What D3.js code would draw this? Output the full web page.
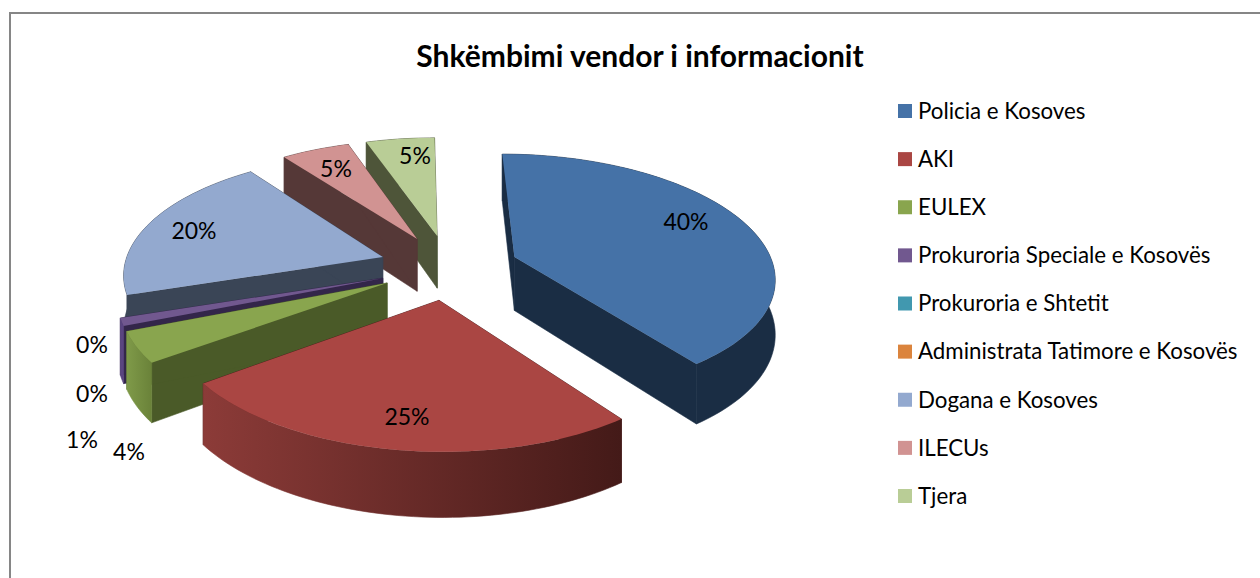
<!DOCTYPE html>
<html><head><meta charset="utf-8">
<script src="https://cdn.jsdelivr.net/npm/d3@7/dist/d3.min.js"></script>
<style>html,body{margin:0;padding:0;background:#fff}svg{display:block}text{font-family:Lato,Carlito,"Open Sans",sans-serif;fill:#000}</style>
</head><body><svg id="c" width="1260" height="578"></svg>
<script>
const title = "Shkëmbimi vendor i informacionit";
const categories = ["Policia e Kosoves","AKI","EULEX","Prokuroria Speciale e Kosovës","Prokuroria e Shtetit","Administrata Tatimore e Kosovës","Dogana e Kosoves","ILECUs","Tjera"];
const values = [40,25,4,1,0,0,20,5,5];
const topColors = ["#4572a7","#aa4643","#89a54e","#71588f","#4198af","#db843d","#93a9cf","#d19392","#b9cd96"];
const faceColors = ["#1a2d44","#451a19","#4a5a28","#33264a","#1f4a56","#7a4a20","#3a4556","#553837","#4e5539"];
const wallStart = ["#1a2d44","#8c3b38","#7f9a49","#5a4580","#1f4a56","#7a4a20","#3a4556","#553837","#4e5539"];
const wallEnd = ["#1a2d44","#441a18","#6a8239","#5a4580","#1f4a56","#7a4a20","#3a4556","#553837","#4e5539"];
// label centres, chart styling rather than data
const labelPos = [[686,222],[407,417],[129,452],[82,440],[92,394],[92,345],[194,231],[336,169],[415,156]];
const drawOrder = [8,7,6,5,4,3,2,0,1];

const W=1260,H=578,cx=449,cy=267,R=259,tiltY=120,persp=0.14,explode=70,depth=54,shear=0.04;
const svg=d3.select("#c");
const defs=svg.append("defs");

svg.append("path").attr("d",`M10,578V13H1260`).attr("fill","none").attr("stroke","#868686").attr("stroke-width",2);
svg.append("text").attr("x",640).attr("y",67).attr("text-anchor","middle").attr("font-size",30).attr("font-weight",700).text(title);

const arcs=d3.pie().sort(null).value(d=>d).startAngle(0).endAngle(2*Math.PI)(values);
function project(wx,wy,z){ // wx,wy in units of R on disc plane, z in px
  const p=1/(1+persp*wy);
  const dy=-wy*tiltY*p;
  return [cx+wx*R*p+shear*dy, cy+dy+z*p];
}
const line=d3.line();
drawOrder.forEach(i=>{
  const a=arcs[i]; if(a.value===0) return;
  const mid=(a.startAngle+a.endAngle)/2, e=explode/R;
  const ax=e*Math.sin(mid), ay=e*Math.cos(mid);
  const n=Math.max(6,Math.ceil((a.endAngle-a.startAngle)*40));
  const rim=d3.range(n+1).map(k=>{const t=a.startAngle+(a.endAngle-a.startAngle)*k/n;return [ax+Math.sin(t),ay+Math.cos(t)];});
  const rimTop=rim.map(q=>project(q[0],q[1],0)), rimBot=rim.map(q=>project(q[0],q[1],depth));
  const apexT=project(ax,ay,0), apexB=project(ax,ay,depth);
  const g=svg.append("g");
  g.append("path").attr("d",line([apexT,rimTop[0],rimBot[0],apexB])+"Z").attr("fill",faceColors[i]).attr("stroke",faceColors[i]).attr("stroke-width",0.6);
  g.append("path").attr("d",line([apexT,rimTop[n],rimBot[n],apexB])+"Z").attr("fill",faceColors[i]).attr("stroke",faceColors[i]).attr("stroke-width",0.6);
  const id="w"+i, xs=d3.extent(rimTop,d=>d[0]);
  const gr=defs.append("linearGradient").attr("id",id).attr("gradientUnits","userSpaceOnUse").attr("x1",xs[0]).attr("x2",xs[1]).attr("y1",0).attr("y2",0);
  gr.append("stop").attr("offset",0).attr("stop-color",wallStart[i]);
  gr.append("stop").attr("offset",1).attr("stop-color",wallEnd[i]);
  g.append("path").attr("d",line(rimTop.concat(rimBot.slice().reverse()))+"Z").attr("fill",`url(#${id})`).attr("stroke",`url(#${id})`).attr("stroke-width",0.6);
  g.append("path").attr("d",line([apexT].concat(rimTop))+"Z").attr("fill",topColors[i]);
});

svg.append("g").selectAll("text").data(values).join("text")
  .attr("x",(d,i)=>labelPos[i][0]).attr("y",(d,i)=>labelPos[i][1])
  .attr("dy","0.35em").attr("text-anchor","middle").attr("font-size",23).text(d=>d+"%");

const yLeg=d3.scalePoint().domain(categories).range([111,496]);
const leg=svg.append("g").selectAll("g").data(categories).join("g").attr("transform",d=>`translate(898,${yLeg(d)})`);
leg.append("rect").attr("x",0).attr("y",-7).attr("width",14).attr("height",14).attr("fill",(d,i)=>topColors[i]);
leg.append("text").attr("x",20).attr("dy","0.35em").attr("font-size",22.3).text(d=>d);
</script></body></html>
